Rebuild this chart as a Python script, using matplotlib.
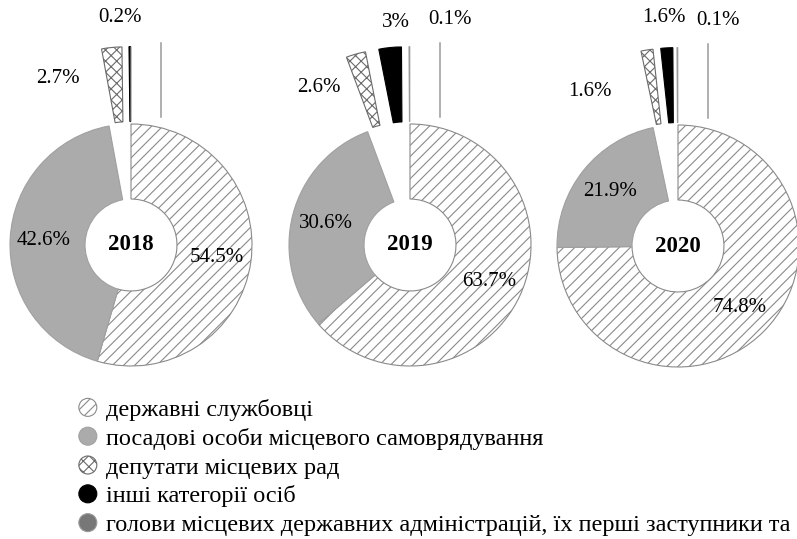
#!/usr/bin/env python3
"""Three exploded doughnuts: structure of persons by category, 2018-2020."""

import numpy as np
import matplotlib
matplotlib.use("Agg")
import matplotlib.pyplot as plt
from matplotlib.patches import Circle, Wedge
from matplotlib.legend_handler import HandlerPatch

# ---- data -------------------------------------------------------------
years = ["2018", "2019", "2020"]
categories = [
    "державні службовці",
    "посадові особи місцевого самоврядування",
    "депутати місцевих рад",
    "інші категорії осіб",
    "голови місцевих державних адміністрацій, їх перші заступники та заступники",
]
civil_servants = [54.5, 63.7, 74.8]
local_officials = [42.6, 30.6, 21.9]
deputies = [2.7, 2.6, 1.6]
others = [0.2, 3.0, 1.6]
heads = [0.0, 0.1, 0.1]

# ---- styles -----------------------------------------------------------
plt.rcParams["font.family"] = ["Liberation Serif", "DejaVu Serif"]
plt.rcParams["hatch.linewidth"] = 0.8

styles = [
    dict(facecolor="white", edgecolor="#8a8a8a", hatch="///"),
    dict(facecolor="#ababab", edgecolor="#a0a0a0", hatch=""),
    dict(facecolor="white", edgecolor="#6a6a6a", hatch="xxx"),
    dict(facecolor="black", edgecolor="black", hatch=""),
    dict(facecolor="#777777", edgecolor="#9a9a9a", hatch=""),
]

R = 121            # outer radius (px)
HOLE = 0.38        # hole radius as share of R
EXPLODE = 0.64     # share of R
centres = [(131, 294), (410, 294), (678, 293)]
# label offsets (in R units) for the two exploded labelled slices
dep_label = [(-0.60, 1.38), (-0.75, 1.30), (-0.73, 1.28)]
oth_label = [(-0.09, 1.88), (-0.12, 1.84), (-0.12, 1.89)]
heads_label = (0.33, 1.86)
FS = 15
LEG_FS = 17.5

fig = plt.figure(figsize=(7.97, 5.39), dpi=100)
ax = fig.add_axes([0, 0, 1, 1])

wedges_all = None
for i, year in enumerate(years):
    vals = [civil_servants[i], local_officials[i], deputies[i], others[i], heads[i]]
    cx, cy = centres[i]
    e = EXPLODE * R
    wedges, _ = ax.pie(
        vals, radius=R, center=(cx, cy), startangle=90, counterclock=False,
        explode=[0, 0, e, e, e],
        wedgeprops=dict(width=R * (1 - HOLE), linewidth=0.8),
    )
    for w, st in zip(wedges, styles):
        w.set_facecolor(st["facecolor"])
        w.set_edgecolor(st["edgecolor"])
        w.set_hatch(st["hatch"])
    if wedges_all is None:
        wedges_all = wedges

    # labels of the two big slices, along their mid angle
    for w, v in zip(wedges[:2], vals[:2]):
        mid = np.deg2rad((w.theta1 + w.theta2) / 2)
        ax.text(cx + 0.72 * R * np.cos(mid), cy + 0.72 * R * np.sin(mid),
                f"{v:g}%", ha="center", va="center", fontsize=FS)

    dx, dy = dep_label[i]
    ax.text(cx + dx * R, cy + dy * R, f"{deputies[i]:g}%",
            ha="center", va="center", fontsize=FS)
    ox, oy = oth_label[i]
    ax.text(cx + ox * R, cy + oy * R, f"{others[i]:g}%",
            ha="center", va="center", fontsize=FS)

    # leader line for the tiny "heads" slice
    ax.plot([cx + 0.25 * R] * 2, [cy + 1.06 * R, cy + 1.67 * R],
            color="#9a9a9a", lw=1.1)
    if heads[i] > 0:
        ax.text(cx + heads_label[0] * R, cy + heads_label[1] * R,
                f"{heads[i]:g}%", ha="center", va="center", fontsize=FS)

    ax.text(cx, cy, year, ha="center", va="center", fontsize=16.5,
            fontweight="bold")

ax.set_xlim(0, 797)
ax.set_ylim(0, 539)
ax.set_aspect("equal")
ax.axis("off")


def make_circle(legend, orig_handle, xdescent, ydescent, width, height, fontsize):
    r = 0.37 * fontsize
    return Circle((width / 2 - xdescent, height / 2 - ydescent), r)


fig.legend(
    wedges_all, categories, loc="upper left", bbox_to_anchor=(0.098, 0.26),
    frameon=False, fontsize=LEG_FS, labelspacing=0.28, handlelength=0.8,
    handletextpad=0.35, borderaxespad=0, borderpad=0,
    handler_map={Wedge: HandlerPatch(patch_func=make_circle)},
)

fig.savefig("out.png", dpi=100)
